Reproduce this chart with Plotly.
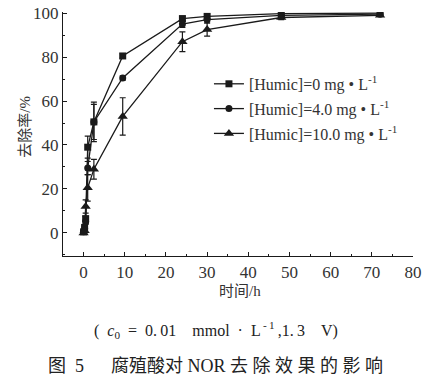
import plotly.graph_objects as go

time_h = [0, 0.25, 0.5, 1, 2.5, 9.5, 24, 30, 48, 72]
humic_0 = [0.5, 2.5, 6.5, 39, 50.5, 80.5, 97.5, 98.5, 99.8, 100]
humic_0_err = [0.5, 1, 1, 5, 9, 1, 1, 1, 0.5, 0.5]
humic_4 = [0.5, 2, 5, 29.5, 50.5, 70.5, 95, 97, 99, 99.5]
humic_4_err = [0.5, 1, 1, 3, 8, 1, 1.5, 1.5, 0.5, 0.5]
humic_10 = [0, 1, 12, 20.5, 29, 53, 87, 92.5, 98, 99]
humic_10_err = [0.5, 1, 3, 6, 4.5, 8.5, 4.5, 3, 1, 0.5]

names = ["[Humic]=0 mg \u2022 L<sup>-1</sup>",
         "[Humic]=4.0 mg \u2022 L<sup>-1</sup>",
         "[Humic]=10.0 mg \u2022 L<sup>-1</sup>"]
symbols = ["square", "circle", "triangle-up"]
marker_sizes = [7, 7, 9]
series = [humic_0, humic_4, humic_10]
errs = [humic_0_err, humic_4_err, humic_10_err]

FONT = "Liberation Serif, Times New Roman, Noto Sans CJK SC, serif"
INK = "#1a1a1a"

fig = go.Figure()
for i, (nm, sym, ms, ys, es) in enumerate(zip(names, symbols, marker_sizes, series, errs)):
    fig.add_trace(go.Scatter(
        x=time_h, y=ys, name=nm, mode="lines+markers", legendgroup=f"g{i}",
        line=dict(color=INK, width=1.3),
        marker=dict(symbol=sym, size=ms, color=INK),
        error_y=dict(type="data", array=es, visible=True, color=INK, thickness=1.2, width=3),
    ))

axis_common = dict(
    showline=True, linecolor=INK, linewidth=1.2, ticks="inside", ticklen=4,
    tickcolor=INK, tickwidth=1, showgrid=False, zeroline=False,
    tickfont=dict(family=FONT, size=17, color="#333"),
    mirror=False, automargin=False, ticklabeloverflow="allow",
)
fig.update_xaxes(range=[-5, 80], dtick=10, tick0=0,
                 minor=dict(ticks="inside", ticklen=2, dtick=5, tickcolor=INK),
                 **axis_common)
fig.update_yaxes(range=[-10.5, 100.5], dtick=20, tick0=0,
                 minor=dict(ticks="inside", ticklen=2, dtick=10, tickcolor=INK),
                 **axis_common)

fig.update_layout(
    width=441, height=389,
    margin=dict(l=63, r=28, t=12, b=133),
    paper_bgcolor="white", plot_bgcolor="white",
    font=dict(family=FONT, color="#333"),
    legend=dict(x=0.417, y=0.775, xanchor="left", yanchor="top",
                font=dict(family=FONT, size=16, color="#333"),
                bgcolor="rgba(0,0,0,0)", tracegroupgap=1, itemwidth=30,
                traceorder="grouped"),
    showlegend=True,
    hovermode=False,
)

fig.add_annotation(text="时间/h", xref="paper", yref="paper", x=0.506, y=-0.143,
                   showarrow=False, xanchor="center", yanchor="middle",
                   font=dict(family=FONT, size=15, color="#333"))
fig.add_annotation(text="去除率/%", xref="paper", yref="paper", x=-0.109, y=0.529,
                   showarrow=False, xanchor="center", yanchor="middle", textangle=-90,
                   font=dict(family=FONT, size=15, color="#333"))

fig.add_annotation(text="(\u2002<i>c</i><sub>0</sub>\u2002=\u20020.\u200901\u2003mmol\u2002·\u2002L<sup>\u2009-\u20091</sup>\u2009,1.\u20093\u2003V)",
                   xref="paper", yref="paper", x=0.437, y=-0.303, showarrow=False,
                   xanchor="center", yanchor="middle",
                   font=dict(family=FONT, size=16, color="#222"))
fig.add_annotation(text="图\u20025\u2003\u2002腐殖酸对 NOR 去\u2005除\u2005效\u2005果\u2005的\u2005影\u2005响",
                   xref="paper", yref="paper", x=0.436, y=-0.447, showarrow=False,
                   xanchor="center", yanchor="middle",
                   font=dict(family=FONT, size=18, color="#222"))

fig.write_html("out.html", config={"displayModeBar": False},
               post_script="document.body.style.margin='0';")
